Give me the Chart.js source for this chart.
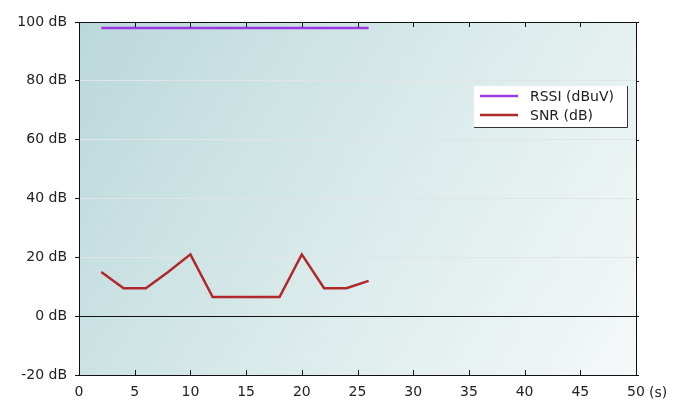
<!DOCTYPE html>
<html>
<head>
<meta charset="utf-8">
<script src="https://cdn.jsdelivr.net/npm/chart.js@4"></script>
<style>
  html, body { margin: 0; padding: 0; background: #fff; }
  #wrap { width: 685px; height: 400px; }
</style>
</head>
<body>
<div id="wrap"><canvas id="signalChart" width="685" height="400"></canvas></div>
<script>
// time in seconds
const times = [2, 4, 6, 8, 10, 12, 14, 16, 18, 20, 22, 24, 26];
const rssi = [98, 98, 98, 98, 98, 98, 98, 98, 98, 98, 98, 98, 98];
const snr = [15, 9.5, 9.5, 15, 21, 6.5, 6.5, 6.5, 6.5, 21, 9.5, 9.5, 12];
const seriesLabels = ["RSSI (dBuV)", "SNR (dB)"];
const seriesColors = ["#9a38e4", "#b0282a"];
const yTicks = [-20, 0, 20, 40, 60, 80, 100];
const xTicks = [0, 5, 10, 15, 20, 25, 30, 35, 40, 45, 50];

const FONT = "DejaVu Sans, Verdana, sans-serif";
const FSIZE = 14;

// background, borders, tick marks and the legend box
const decorPlugin = {
  id: "decor",
  beforeDraw(chart) {
    const { ctx, chartArea: a } = chart;
    ctx.save();
    ctx.fillStyle = "#fff";
    ctx.fillRect(0, 0, chart.width, chart.height);
    const g = ctx.createLinearGradient(a.left, a.top, a.right, a.bottom);
    g.addColorStop(0, "#bad8db");
    g.addColorStop(0.5, "#d9eaea");
    g.addColorStop(1, "#f5f8f8");
    ctx.fillStyle = g;
    ctx.fillRect(a.left, a.top, a.right - a.left, a.bottom - a.top);
    ctx.restore();
  },
  afterDraw(chart) {
    const { ctx, chartArea: a } = chart;
    const xs = chart.scales.x;
    const ys = chart.scales.y;
    ctx.save();
    ctx.strokeStyle = "#111";
    ctx.lineWidth = 1;
    // top and right border
    ctx.beginPath();
    ctx.moveTo(a.left, a.top + 0.5);
    ctx.lineTo(a.right + 0.5, a.top + 0.5);
    ctx.lineTo(a.right + 0.5, a.bottom);
    ctx.stroke();
    // x tick marks, inside, top and bottom
    ctx.beginPath();
    xTicks.forEach((v) => {
      const px = Math.round(xs.getPixelForValue(v)) + 0.5;
      ctx.moveTo(px, a.bottom);
      ctx.lineTo(px, a.bottom - 5);
      ctx.moveTo(px, a.top);
      ctx.lineTo(px, a.top + 5);
    });
    // right side ticks
    yTicks.forEach((v) => {
      const py = Math.round(ys.getPixelForValue(v)) + 0.5;
      ctx.moveTo(a.right, py);
      ctx.lineTo(a.right + 3, py);
    });
    ctx.stroke();

    // unit label after the last x tick
    ctx.fillStyle = "#222";
    ctx.font = FSIZE + "px " + FONT;
    ctx.textAlign = "left";
    ctx.textBaseline = "middle";
    ctx.fillText("(s)", xs.getPixelForValue(50) + 13, 393);

    // legend
    const lx = 474, ly = 86, lw = 153, lh = 41;
    ctx.fillStyle = "#fff";
    ctx.fillRect(lx, ly, lw, lh);
    ctx.strokeStyle = "#333";
    ctx.beginPath();
    ctx.moveTo(lx + lw + 0.5, ly);
    ctx.lineTo(lx + lw + 0.5, ly + lh + 0.5);
    ctx.lineTo(lx, ly + lh + 0.5);
    ctx.stroke();
    seriesLabels.forEach((lab, i) => {
      const yy = ly + 10 + i * 19;
      ctx.strokeStyle = seriesColors[i];
      ctx.lineWidth = 2.5;
      ctx.beginPath();
      ctx.moveTo(lx + 6, yy);
      ctx.lineTo(lx + 44, yy);
      ctx.stroke();
      ctx.fillStyle = "#222";
      ctx.fillText(lab, lx + 56, yy + 1);
    });
    ctx.restore();
  },
};

new Chart(document.getElementById("signalChart"), {
  type: "line",
  data: {
    datasets: [
      {
        label: seriesLabels[0],
        data: times.map((t, i) => ({ x: t, y: rssi[i] })),
        borderColor: seriesColors[0],
        borderWidth: 2.5,
        pointRadius: 0,
        tension: 0,
      },
      {
        label: seriesLabels[1],
        data: times.map((t, i) => ({ x: t, y: snr[i] })),
        borderColor: seriesColors[1],
        borderWidth: 2.5,
        pointRadius: 0,
        tension: 0,
      },
    ],
  },
  options: {
    responsive: false,
    animation: false,
    layout: { padding: { top: 22, right: 49, left: 0, bottom: 0 } },
    plugins: { legend: { display: false }, tooltip: { enabled: false } },
    scales: {
      x: {
        type: "linear",
        min: 0,
        max: 50,
        afterFit: (s) => { s.height = 25; },
        afterBuildTicks: (s) => { s.ticks = xTicks.map((v) => ({ value: v })); },
        ticks: { color: "#222", font: { family: FONT, size: FSIZE }, padding: 9, maxRotation: 0 },
        grid: { drawOnChartArea: false, drawTicks: false },
        border: { color: "#111", width: 1 },
      },
      y: {
        min: -20,
        max: 100,
        afterFit: (s) => { s.width = 79; },
        afterBuildTicks: (s) => { s.ticks = yTicks.map((v) => ({ value: v })); },
        ticks: {
          color: "#222",
          font: { family: FONT, size: FSIZE },
          padding: 8,
          callback: (v) => v + " dB",
        },
        grid: {
          tickLength: 4,
          tickColor: "#111",
          color: (c) => (c.tick && c.tick.value === 0 ? "#111" : c.tick && (c.tick.value === 100 || c.tick.value === -20) ? "rgba(0,0,0,0)" : "rgba(224,228,228,0.95)"),
          lineWidth: 1,
        },
        border: { color: "#111", width: 1 },
      },
    },
  },
  plugins: [decorPlugin],
});
</script>
</body>
</html>
